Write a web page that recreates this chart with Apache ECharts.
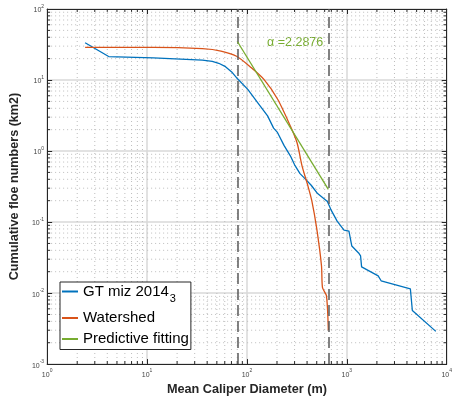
<html lang="en">
<head>
    <meta charset="UTF-8">
    <title>floe</title>
    <script src="https://cdn.jsdelivr.net/npm/echarts@6/dist/echarts.min.js"></script>
    <style>
        html, body { margin: 0; padding: 0; background: #fff; }
        #main { width: 455px; height: 401px; }
    </style>
</head>
<body>
<div id="main"></div>
<script type="text/javascript">
    // GT miz 2014_3 (blue)
    var gtX = [2.40, 4.13, 11.6, 35.8, 45.0, 52.2, 61.0, 70.4, 80.5, 102, 128, 161, 185, 201, 235, 272, 300, 340, 381, 440, 510, 639, 699, 800, 937, 1050, 1122, 1312, 1373, 1406, 2060, 2204, 4325, 4529, 7780];
    var gtY = [33.5, 21.4, 20.5, 19.0, 18.3, 17.2, 15.4, 13.0, 10.4, 7.39, 4.82, 3.13, 2.10, 1.85, 1.20, 0.857, 0.640, 0.481, 0.409, 0.330, 0.252, 0.195, 0.146, 0.103, 0.0768, 0.0744, 0.0459, 0.0367, 0.0333, 0.0234, 0.0175, 0.0149, 0.0115, 0.00568, 0.00289];
    // Watershed (orange)
    var wsX = [2.40, 11.6, 35.8, 55.0, 78.8, 110, 148, 203, 272, 318, 356, 407, 446, 499, 558, 571, 625, 653];
    var wsY = [28.8, 28.8, 27.6, 25.6, 21.6, 15.0, 10.2, 5.36, 2.25, 1.30, 0.62, 0.327, 0.200, 0.0819, 0.0241, 0.0119, 0.0092, 0.0030];
    // Predictive fitting (green), alpha = 2.2876
    var fitX = [80.5, 653];
    var fitY = [34.6, 0.288];
    // dashed bounds
    var boundX = [80.5, 653];
    // axis decades and minor multipliers
    var xDecades = [1, 10, 100, 1000];
    var yDecades = [0.001, 0.01, 0.1, 1, 10];
    var minorMult = [2, 3, 4, 5, 6, 7, 8, 9];

    var xMinor = [], yMinor = [];
    xDecades.forEach(function (d) { minorMult.forEach(function (m) { xMinor.push([m * d, 1]); }); });
    yDecades.forEach(function (d) { minorMult.forEach(function (m) { yMinor.push([1, m * d]); }); });

    function zip(a, b) { return a.map(function (v, i) { return [v, b[i]]; }); }

    var FONT = 'Liberation Sans, Arial, sans-serif';
    var AX = '#262626';

    function expLabel(v) {
        var e = Math.round(Math.log10(v));
        return '{b|10}{s|' + e + '}';
    }
    var labelRich = {
        b: { fontSize: 7, color: '#444', fontFamily: FONT, lineHeight: 10, verticalAlign: 'bottom' },
        s: { fontSize: 5, color: '#444', fontFamily: FONT, lineHeight: 10, verticalAlign: 'top' }
    };

    function minorRender(isX) {
        return function (params, api) {
            var cs = params.coordSys;
            var v = api.value(isX ? 0 : 1);
            var lines = [];
            var dot = { stroke: '#bdbdbd', lineWidth: 1, lineDash: [1, 3] };
            if (isX) {
                var px = api.coord([v, 1])[0];
                var y0 = cs.y, y1 = cs.y + cs.height;
                lines.push({ type: 'line', shape: { x1: px, y1: y0, x2: px, y2: y1 }, style: dot });
                lines.push({ type: 'line', shape: { x1: px, y1: y1, x2: px, y2: y1 - 3 }, style: { stroke: AX, lineWidth: 1 } });
                lines.push({ type: 'line', shape: { x1: px, y1: y0, x2: px, y2: y0 + 3 }, style: { stroke: AX, lineWidth: 1 } });
            } else {
                var py = api.coord([1, v])[1];
                var x0 = cs.x, x1 = cs.x + cs.width;
                lines.push({ type: 'line', shape: { x1: x0, y1: py, x2: x1, y2: py }, style: dot });
                lines.push({ type: 'line', shape: { x1: x0, y1: py, x2: x0 + 3, y2: py }, style: { stroke: AX, lineWidth: 1 } });
                lines.push({ type: 'line', shape: { x1: x1, y1: py, x2: x1 - 3, y2: py }, style: { stroke: AX, lineWidth: 1 } });
            }
            return { type: 'group', children: lines };
        };
    }

    var chart = echarts.init(document.getElementById('main'));
    var option = {
        backgroundColor: '#fff',
        animation: false,
        textStyle: { fontFamily: FONT },
        grid: { left: 41, right: 6, top: 9, bottom: 34 },
        xAxis: [{
            type: 'log', logBase: 10, min: 1, max: 10000,
            name: 'Mean Caliper Diameter (m)', nameLocation: 'middle', nameGap: 15,
            nameTextStyle: { fontSize: 12.7, fontWeight: 'bold', color: AX, fontFamily: FONT },
            axisLine: { lineStyle: { color: AX, width: 1 } },
            axisTick: { inside: true, length: 5, lineStyle: { color: AX } },
            axisLabel: { margin: 4, formatter: expLabel, rich: labelRich },
            splitLine: { show: true, lineStyle: { color: '#d8d8d8', width: 1.5 } }
        }, {
            type: 'log', logBase: 10, min: 1, max: 10000, position: 'top',
            axisLine: { lineStyle: { color: AX, width: 1 } },
            axisTick: { inside: true, length: 5, lineStyle: { color: AX } },
            axisLabel: { show: false },
            splitLine: { show: false }
        }],
        yAxis: [{
            type: 'log', logBase: 10, min: 0.001, max: 100,
            name: 'Cumulative floe numbers (km2)', nameLocation: 'middle', nameGap: 20,
            nameTextStyle: { fontSize: 12.6, fontWeight: 'bold', color: AX, fontFamily: FONT },
            axisLine: { lineStyle: { color: AX, width: 1 } },
            axisTick: { inside: true, length: 5, lineStyle: { color: AX } },
            axisLabel: { margin: 3, formatter: expLabel, rich: labelRich },
            splitLine: { show: true, lineStyle: { color: '#d8d8d8', width: 1.5 } }
        }, {
            type: 'log', logBase: 10, min: 0.001, max: 100, position: 'right',
            axisLine: { show: true, lineStyle: { color: AX, width: 1 } },
            axisTick: { show: true, inside: true, length: 5, lineStyle: { color: AX } },
            axisLabel: { show: false },
            splitLine: { show: false }
        }],
        legend: {
            left: 60, top: 282, orient: 'vertical',
            backgroundColor: '#fff', borderColor: AX, borderWidth: 1,
            padding: [2, 2, 3, 2], itemGap: 6,
            itemWidth: 16, itemHeight: 2, icon: 'rect',
            data: ['GT miz 2014', 'Watershed', 'Predictive fitting'],
            formatter: function (name) {
                return name === 'GT miz 2014' ? '{t|' + name + '}{sub|3}' : '{t|' + name + '}';
            },
            textStyle: {
                fontSize: 15, color: '#000', fontFamily: FONT,
                rich: {
                    t: { fontSize: 15, color: '#000', fontFamily: FONT },
                    sub: { fontSize: 11, color: '#000', fontFamily: FONT, padding: [15, 0, 0, 1] }
                }
            },
            z: 10
        },
        graphic: [{
            type: 'text', left: 267, top: 36,
            style: { text: 'α =2.2876', fill: '#77AC30', font: '12.5px ' + FONT }
        }],
        series: [
            {
                type: 'custom', coordinateSystem: 'cartesian2d', silent: true, z: 0,
                data: xMinor, renderItem: minorRender(true)
            },
            {
                type: 'custom', coordinateSystem: 'cartesian2d', silent: true, z: 0,
                data: yMinor, renderItem: minorRender(false)
            },
            {
                name: 'GT miz 2014', type: 'line', data: zip(gtX, gtY),
                showSymbol: false, color: '#0072BD', lineStyle: { width: 1.3 }, z: 3
            },
            {
                name: 'Watershed', type: 'line', data: zip(wsX, wsY),
                showSymbol: false, color: '#D95319', lineStyle: { width: 1.3 }, z: 4,
                smooth: 0.25
            },
            {
                name: 'Predictive fitting', type: 'line', data: zip(fitX, fitY),
                showSymbol: false, color: '#77AC30', lineStyle: { width: 1.3 }, z: 5,
                markLine: {
                    silent: true, symbol: 'none', label: { show: false },
                    lineStyle: { color: '#5a5a5a', type: [11, 5], width: 1.5 },
                    data: boundX.map(function (v) { return { xAxis: v }; })
                }
            }
        ]
    };
    chart.setOption(option);
</script>
</body>
</html>
